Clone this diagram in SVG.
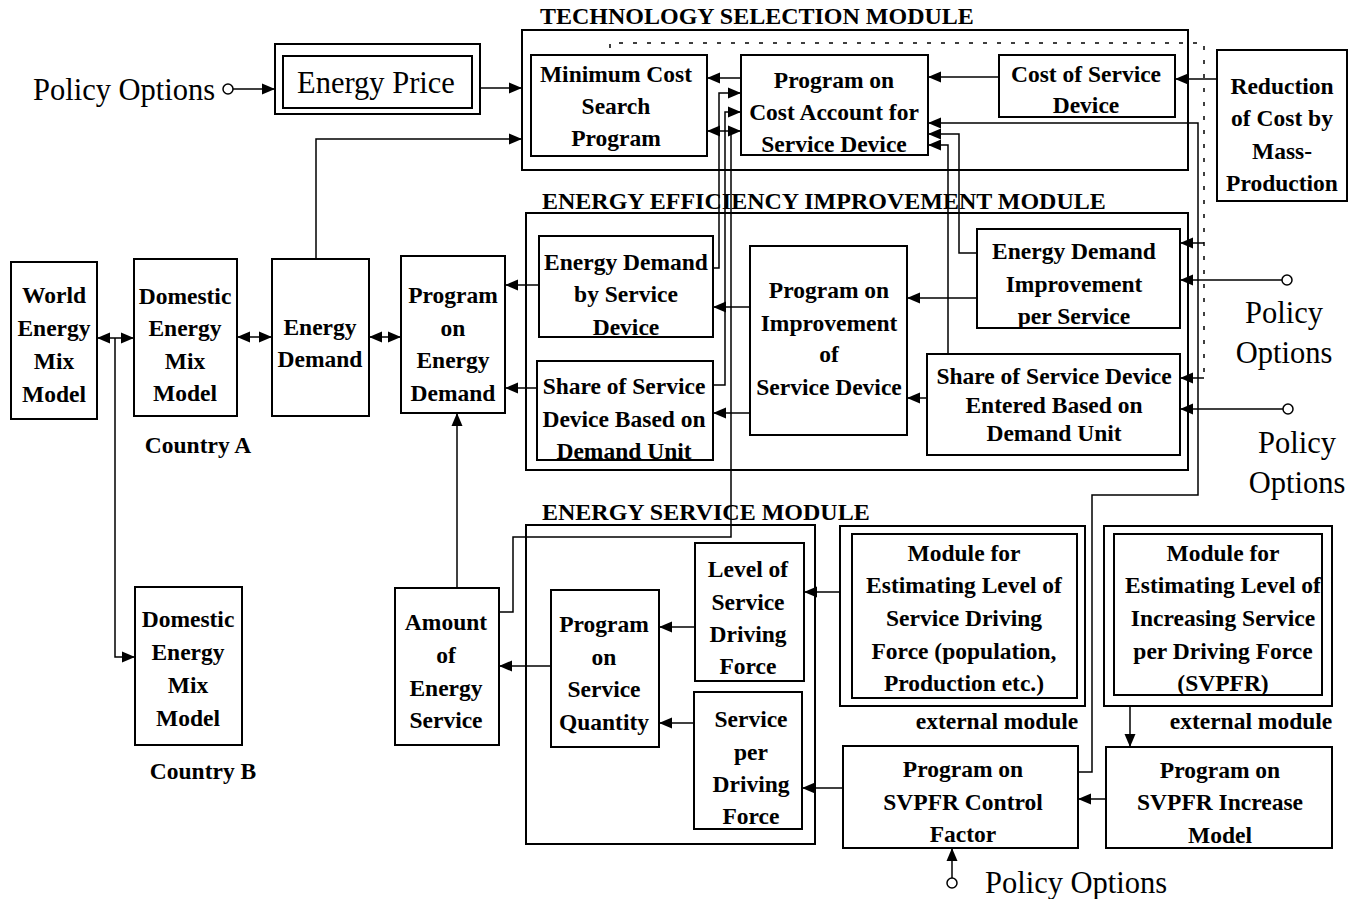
<svg xmlns="http://www.w3.org/2000/svg" width="1356" height="899" viewBox="0 0 1356 899">
<defs>
<marker id="a" markerUnits="userSpaceOnUse" markerWidth="14" markerHeight="12" refX="13" refY="6" orient="auto-start-reverse"><path d="M0,0.5 L13,6 L0,11.5 z" fill="#000"/></marker>
<style>
text{font-family:"Liberation Serif","Times New Roman",serif;fill:#000}
.b{font-weight:bold;font-size:23.5px;text-anchor:middle}
.t{font-weight:bold;font-size:24px}
.r{font-size:30.5px}
.box{fill:#fff;stroke:#000;stroke-width:2}
.mod{fill:none;stroke:#000;stroke-width:2}
.c{fill:none;stroke:#000;stroke-width:1.5}
.ar{marker-end:url(#a)}
.da{marker-start:url(#a);marker-end:url(#a)}
.dash{fill:none;stroke:#000;stroke-width:1.5;stroke-dasharray:4 10}
.o{fill:#fff;stroke:#000;stroke-width:1.5}
</style>
</defs>
<rect width="1356" height="899" fill="#fff"/>

<g id="modules">
<rect class="mod" x="522" y="30" width="666" height="140"/>
<text class="t" x="540" y="24">TECHNOLOGY SELECTION MODULE</text>
<rect class="mod" x="526" y="213" width="662" height="257"/>
<text class="t" x="542" y="209">ENERGY EFFICIENCY IMPROVEMENT MODULE</text>
<rect class="mod" x="526" y="525" width="289" height="319"/>
<text class="t" x="542" y="520">ENERGY SERVICE MODULE</text>
</g>

<g id="connectors">
<circle class="o" cx="228" cy="89" r="5"/>
<line class="c ar" x1="233" y1="89" x2="275" y2="89"/>
<line class="c ar" x1="480" y1="88" x2="522" y2="88"/>
<polyline class="c ar" points="316,259 316,139 522,139"/>
<line class="c ar" x1="1217" y1="79" x2="1175" y2="79"/>
<line class="c ar" x1="999" y1="77" x2="928" y2="77"/>
<line class="c ar" x1="741" y1="78" x2="707" y2="78"/>
<polyline class="c ar" points="713,268 719,268 719,93 741,93"/>
<polyline class="c ar" points="713,385 725,385 725,112 741,112"/>
<polyline class="c" points="499,612 513,612 513,537 731,537 731,131"/>
<line class="c da" x1="707" y1="131" x2="741" y2="131"/>
<polyline class="c ar" points="1078,772 1092,772 1092,495 1198,495 1198,123 928,123"/>
<polyline class="c ar" points="977,253 959,253 959,134 928,134"/>
<polyline class="c ar" points="948,354 948,145 928,145"/>
<line class="c ar" x1="977" y1="298" x2="907" y2="298"/>
<line class="c ar" x1="927" y1="398" x2="907" y2="398"/>
<line class="c ar" x1="750" y1="307" x2="713" y2="307"/>
<line class="c ar" x1="750" y1="413" x2="713" y2="413"/>
<line class="c ar" x1="539" y1="285" x2="505" y2="285"/>
<line class="c ar" x1="537" y1="388" x2="505" y2="388"/>
<circle class="o" cx="1287" cy="280" r="5"/>
<line class="c ar" x1="1282" y1="280" x2="1180" y2="280"/>
<circle class="o" cx="1288" cy="409" r="5"/>
<line class="c ar" x1="1283" y1="409" x2="1180" y2="409"/>
<polyline class="dash" points="610,48 610,43 1204,43 1204,378"/>
<line class="c ar" x1="1204" y1="243" x2="1180" y2="243"/>
<line class="c ar" x1="1204" y1="378" x2="1180" y2="378"/>
<line class="c da" x1="97" y1="338" x2="134" y2="338"/>
<polyline class="c ar" points="115,338 115,657 135,657"/>
<line class="c da" x1="237" y1="337" x2="272" y2="337"/>
<line class="c da" x1="369" y1="337" x2="401" y2="337"/>
<line class="c ar" x1="457" y1="588" x2="457" y2="413"/>
<line class="c ar" x1="695" y1="627" x2="659" y2="627"/>
<line class="c ar" x1="694" y1="723" x2="659" y2="723"/>
<line class="c ar" x1="551" y1="666" x2="499" y2="666"/>
<line class="c ar" x1="840" y1="592" x2="804" y2="592"/>
<line class="c ar" x1="843" y1="788" x2="802" y2="788"/>
<line class="c ar" x1="1130" y1="706" x2="1130" y2="747"/>
<line class="c ar" x1="1106" y1="799" x2="1078" y2="799"/>
<circle class="o" cx="952" cy="883" r="5"/>
<line class="c ar" x1="952" y1="878" x2="952" y2="848"/>
</g>

<g id="policy-top"><text class="r" x="33" y="100">Policy Options</text></g>
<g id="policy-r1"><text class="r" x="1284" y="323" text-anchor="middle">Policy</text><text class="r" x="1284" y="363" text-anchor="middle">Options</text></g>
<g id="policy-r2"><text class="r" x="1297" y="453" text-anchor="middle">Policy</text><text class="r" x="1297" y="493" text-anchor="middle">Options</text></g>
<g id="policy-bottom"><text class="r" x="985" y="893">Policy Options</text></g>

<g id="energy-price">
<rect class="box" x="275" y="44" width="205" height="70"/>
<rect class="box" x="283" y="56" width="189" height="52"/>
<text class="r" x="376" y="93" text-anchor="middle">Energy Price</text>
</g>

<g id="min-cost">
<rect class="box" x="531" y="55" width="176" height="101"/>
<text class="b" x="616" y="82">Minimum Cost</text><text class="b" x="616" y="114">Search</text><text class="b" x="616" y="146">Program</text>
</g>
<g id="cost-account">
<rect class="box" x="741" y="55" width="187" height="100"/>
<text class="b" x="834" y="88">Program on</text><text class="b" x="834" y="120">Cost Account for</text><text class="b" x="834" y="152">Service Device</text>
</g>
<g id="cost-device">
<rect class="box" x="999" y="55" width="176" height="62"/>
<text class="b" x="1086" y="82">Cost of Service</text><text class="b" x="1086" y="113">Device</text>
</g>
<g id="reduction">
<rect class="box" x="1217" y="50" width="130" height="151"/>
<text class="b" x="1282" y="94">Reduction</text><text class="b" x="1282" y="126">of Cost by</text><text class="b" x="1282" y="159">Mass-</text><text class="b" x="1282" y="191">Production</text>
</g>

<g id="ed-by-device">
<rect class="box" x="539" y="236" width="174" height="101"/>
<text class="b" x="626" y="270">Energy Demand</text><text class="b" x="626" y="302">by Service</text><text class="b" x="626" y="335">Device</text>
</g>
<g id="share-device">
<rect class="box" x="537" y="361" width="176" height="99"/>
<text class="b" x="624" y="394">Share of Service</text><text class="b" x="624" y="427">Device Based on</text><text class="b" x="624" y="459">Demand Unit</text>
</g>
<g id="improvement">
<rect class="box" x="750" y="246" width="157" height="189"/>
<text class="b" x="829" y="298">Program on</text><text class="b" x="829" y="331">Improvement</text><text class="b" x="829" y="362">of</text><text class="b" x="829" y="395">Service Device</text>
</g>
<g id="edi-service">
<rect class="box" x="977" y="229" width="203" height="99"/>
<text class="b" x="1074" y="259">Energy Demand</text><text class="b" x="1074" y="292">Improvement</text><text class="b" x="1074" y="324">per Service</text>
</g>
<g id="share-entered">
<rect class="box" x="927" y="354" width="253" height="101"/>
<text class="b" x="1054" y="384">Share of Service Device</text><text class="b" x="1054" y="413">Entered Based on</text><text class="b" x="1054" y="441">Demand Unit</text>
</g>

<g id="world">
<rect class="box" x="11" y="262" width="86" height="157"/>
<text class="b" x="54" y="303">World</text><text class="b" x="54" y="336">Energy</text><text class="b" x="54" y="369">Mix</text><text class="b" x="54" y="402">Model</text>
</g>
<g id="domestic-a">
<rect class="box" x="134" y="259" width="103" height="157"/>
<text class="b" x="185" y="304">Domestic</text><text class="b" x="185" y="336">Energy</text><text class="b" x="185" y="369">Mix</text><text class="b" x="185" y="401">Model</text>
<text class="b" x="198" y="453">Country A</text>
</g>
<g id="energy-demand">
<rect class="box" x="272" y="259" width="97" height="157"/>
<text class="b" x="320" y="335">Energy</text><text class="b" x="320" y="367">Demand</text>
</g>
<g id="program-ed">
<rect class="box" x="401" y="256" width="104" height="157"/>
<text class="b" x="453" y="303">Program</text><text class="b" x="453" y="336">on</text><text class="b" x="453" y="368">Energy</text><text class="b" x="453" y="401">Demand</text>
</g>
<g id="domestic-b">
<rect class="box" x="135" y="587" width="107" height="158"/>
<text class="b" x="188" y="627">Domestic</text><text class="b" x="188" y="660">Energy</text><text class="b" x="188" y="693">Mix</text><text class="b" x="188" y="726">Model</text>
<text class="b" x="203" y="779">Country B</text>
</g>

<g id="amount">
<rect class="box" x="395" y="588" width="104" height="157"/>
<text class="b" x="446" y="630">Amount</text><text class="b" x="446" y="663">of</text><text class="b" x="446" y="696">Energy</text><text class="b" x="446" y="728">Service</text>
</g>
<g id="service-quantity">
<rect class="box" x="551" y="590" width="108" height="157"/>
<text class="b" x="604" y="632">Program</text><text class="b" x="604" y="665">on</text><text class="b" x="604" y="697">Service</text><text class="b" x="604" y="730">Quantity</text>
</g>
<g id="level-driving">
<rect class="box" x="695" y="543" width="109" height="138"/>
<text class="b" x="748" y="577">Level of</text><text class="b" x="748" y="610">Service</text><text class="b" x="748" y="642">Driving</text><text class="b" x="748" y="674">Force</text>
</g>
<g id="service-per">
<rect class="box" x="694" y="692" width="108" height="137"/>
<text class="b" x="751" y="727">Service</text><text class="b" x="751" y="760">per</text><text class="b" x="751" y="792">Driving</text><text class="b" x="751" y="824">Force</text>
</g>

<g id="ext-driving">
<rect class="box" x="840" y="526" width="245" height="180"/>
<rect class="box" x="852" y="534" width="225" height="164"/>
<text class="b" x="964" y="561">Module for</text><text class="b" x="964" y="593">Estimating Level of</text><text class="b" x="964" y="626">Service Driving</text><text class="b" x="964" y="659">Force (population,</text><text class="b" x="964" y="691">Production etc.)</text>
<text class="b" x="997" y="729">external module</text>
</g>
<g id="ext-svpfr">
<rect class="box" x="1104" y="526" width="228" height="180"/>
<rect class="box" x="1114" y="534" width="208" height="161"/>
<text class="b" x="1223" y="561">Module for</text><text class="b" x="1223" y="593">Estimating Level of</text><text class="b" x="1223" y="626">Increasing Service</text><text class="b" x="1223" y="659">per Driving Force</text><text class="b" x="1223" y="691">(SVPFR)</text>
<text class="b" x="1251" y="729">external module</text>
</g>
<g id="svpfr-control">
<rect class="box" x="843" y="746" width="235" height="102"/>
<text class="b" x="963" y="777">Program on</text><text class="b" x="963" y="810">SVPFR Control</text><text class="b" x="963" y="842">Factor</text>
</g>
<g id="svpfr-increase">
<rect class="box" x="1106" y="747" width="226" height="101"/>
<text class="b" x="1220" y="778">Program on</text><text class="b" x="1220" y="810">SVPFR Increase</text><text class="b" x="1220" y="843">Model</text>
</g>
</svg>
